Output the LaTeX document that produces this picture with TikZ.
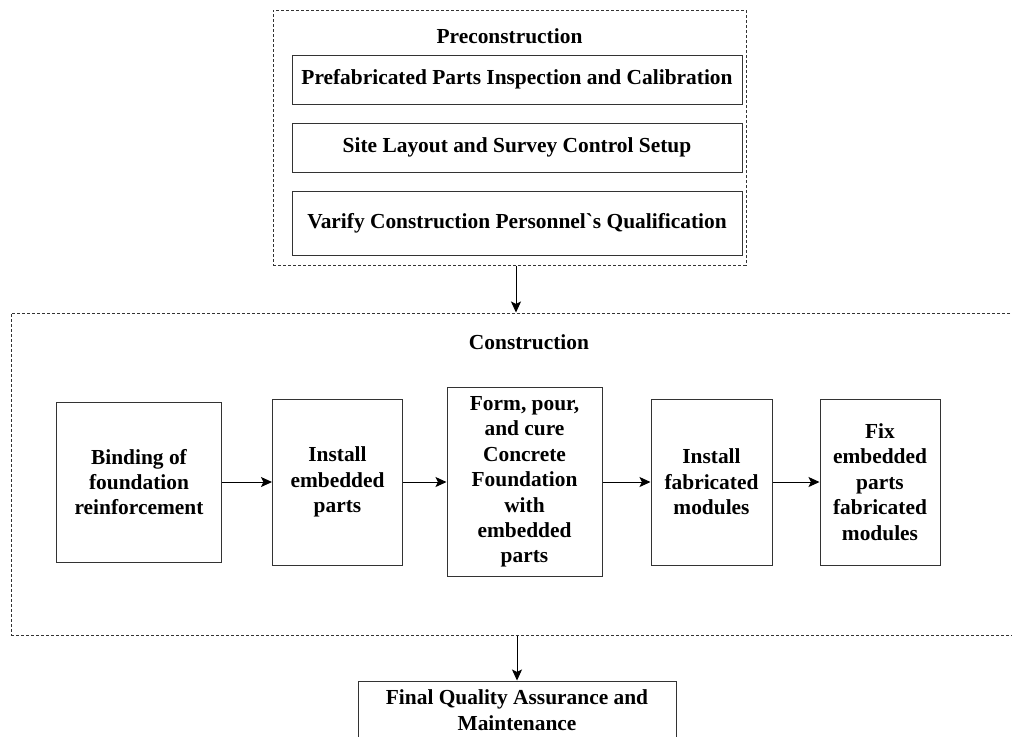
\documentclass[tikz,border=0pt]{standalone}
\usepackage{fontspec}
\setmainfont{Liberation Serif}
\usetikzlibrary{arrows.meta}
\tikzstyle{group} = [rectangle, draw=black!80, line width=0.5pt, dash pattern=on 1.5pt off 1pt, inner sep=0pt]
\tikzstyle{title} = [inner sep=0pt, font=\fontsize{10.7}{12.7}\selectfont\bfseries]
\tikzstyle{wide} = [rectangle, draw=black!80, line width=0.5pt, minimum width=225pt, minimum height=24.5pt, inner sep=2pt, align=center, font=\fontsize{10.7}{12.7}\selectfont\bfseries]
\tikzstyle{process} = [rectangle, draw=black!80, line width=0.5pt, minimum height=83pt, inner sep=0pt, align=center, font=\fontsize{10.7}{12.7}\selectfont\bfseries]
\tikzstyle{arrow} = [line width=0.5pt, -{Stealth[length=5.5pt, width=5pt, inset=1.2pt]}]
\begin{document}
\begin{tikzpicture}[x=0.5pt, y=-0.5pt, node distance=93.5pt]
\useasboundingbox (0,0) rectangle (1012,736);

%% NODES
\node (pre) [group, minimum width=236.5pt, minimum height=127.5pt] at (509.5,137.5) {};
\node (pretitle) [title] at (509.5,36) {Preconstruction};
\node (pre1) [wide] at (517,79.5) {Prefabricated Parts Inspection and Calibration};
\node (pre2) [wide, below of=pre1, node distance=34pt] {Site Layout and Survey Control Setup};
\node (pre3) [wide, below of=pre2, node distance=37.75pt, minimum height=32pt] {Varify Construction Personnel\textasciigrave s Qualification};

\node (con) [group, minimum width=518pt, minimum height=161pt] at (529,474) {};
\node (contitle) [title] at (529,342) {Construction};
\node (pro3) [process, minimum width=77.5pt, minimum height=94.5pt] at (524.5,482) {Form, pour,\\and cure\\Concrete\\Foundation\\with\\embedded\\parts};
\node (pro2) [process, left of=pro3, minimum width=65pt] {Install\\embedded\\parts};
\node (pro1) [process, left of=pro2, xshift=-5.75pt, minimum width=82.75pt, minimum height=80pt] {Binding of\\foundation\\reinforcement};
\node (pro4) [process, right of=pro3, minimum width=60.5pt] {Install\\fabricated\\modules};
\node (pro5) [process, right of=pro4, xshift=-9.25pt, minimum width=60pt] {Fix\\embedded\\parts\\fabricated\\modules};

\node (final) [process, minimum width=159pt, minimum height=29pt] at (517,710) {Final Quality Assurance and\\Maintenance};
\coordinate (mid) at (516,0);

%% ARROWS
\draw [arrow] (pre.south -| mid) -- (con.north -| mid);
\draw [arrow] (pro1) -- (pro2);
\draw [arrow] (pro2) -- (pro3);
\draw [arrow] (pro3) -- (pro4);
\draw [arrow] (pro4) -- (pro5);
\draw [arrow] (con.south -| final.north) -- (final.north);
\end{tikzpicture}
\end{document}
